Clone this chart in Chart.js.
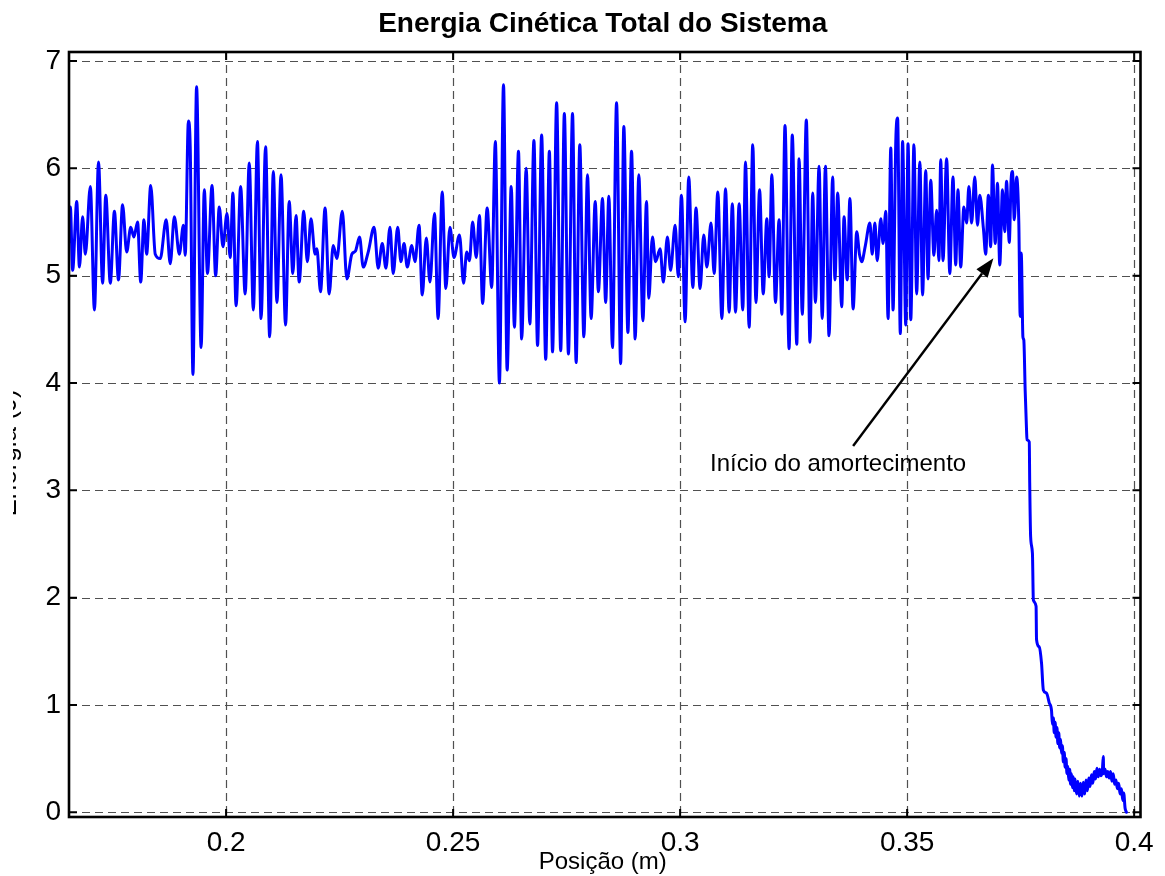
<!DOCTYPE html>
<html>
<head>
<meta charset="utf-8">
<script src="https://cdn.jsdelivr.net/npm/chart.js@4/dist/chart.umd.min.js"></script>
<style>
  html, body { margin: 0; padding: 0; background: #fff; }
</style>
</head>
<body>
<canvas id="grafico" width="1165" height="876"></canvas>
<script>
// Sinal, por trechos: [posição (m), energia (J)]
const trecho1 = [
  [0.1653,5.30],[0.1657,5.64],[0.1662,5.05],[0.1671,5.69],[0.1677,5.08],[0.1684,5.55],[0.1690,5.20],[0.1701,5.83],
  [0.1710,4.68],[0.1719,6.06],[0.1728,4.93],[0.1735,5.75],[0.1745,4.93],[0.1754,5.60],[0.1763,4.96],[0.1772,5.66],
  [0.1781,5.22],[0.1790,5.45],[0.1797,5.36],[0.1805,5.50],[0.1812,4.94],[0.1819,5.52],[0.1825,5.20],[0.1834,5.84],
  [0.1844,5.20],[0.1855,5.16],[0.1868,5.52],[0.1877,5.11],[0.1886,5.55],[0.1897,5.20],[0.1906,5.47],[0.1910,5.19],
  [0.1917,6.44],[0.1921,6.20],[0.1927,4.08],[0.1935,6.76],[0.1945,4.33],[0.1952,5.80],[0.1959,5.02],[0.1969,5.84],
  [0.1977,5.00],[0.1985,5.64],[0.1993,5.27],[0.2002,5.58],[0.2009,5.17],[0.2015,5.77],[0.2022,4.72],[0.2032,5.83],
  [0.2042,4.83],[0.2051,6.05],[0.2060,4.68],[0.2069,6.25]
];

const trecho2 = [
  [0.2077,4.60],[0.2087,6.20],[0.2096,4.43],[0.2104,5.97],[0.2112,4.75],[0.2121,5.94],[0.2131,4.54],[0.2139,5.69],
  [0.2147,5.02],[0.2154,5.56],[0.2161,4.94],[0.2171,5.60],[0.2179,5.13],[0.2187,5.53],[0.2196,5.20],[0.2200,5.25],
  [0.2208,4.85],[0.2218,5.63],[0.2227,4.83],[0.2236,5.28],[0.2244,5.16],[0.2256,5.60],[0.2266,4.97],[0.2277,5.20],
  [0.2285,5.23],[0.2294,5.36],[0.2302,5.08],[0.2313,5.22],[0.2326,5.45],[0.2335,5.07],[0.2344,5.30],[0.2352,5.07],
  [0.2361,5.45],[0.2368,5.02],[0.2378,5.45],[0.2385,5.13],[0.2392,5.30],[0.2399,5.08],[0.2409,5.28],[0.2416,5.13],
  [0.2425,5.47],[0.2432,4.82],[0.2441,5.35],[0.2449,4.94],[0.2459,5.58],[0.2467,4.60],[0.2476,5.78],[0.2484,4.88],
  [0.2493,5.45]
];

const trecho3 = [
  [0.2502,5.17],[0.2514,5.38],[0.2523,4.93],[0.2530,5.22],[0.2536,5.14],[0.2543,5.50],[0.2551,5.17],[0.2558,5.56],
  [0.2565,4.74],[0.2575,5.63],[0.2585,4.89],[0.2593,6.25],[0.2602,4.00],[0.2611,6.78],[0.2619,4.12],[0.2628,5.83],
  [0.2635,4.52],[0.2644,6.16],[0.2651,4.41],[0.2661,6.00],[0.2669,4.55],[0.2678,6.26],[0.2686,4.35],[0.2695,6.31],
  [0.2704,4.22],[0.2712,6.16],[0.2719,4.29],[0.2728,6.61],[0.2737,4.30],[0.2745,6.51],[0.2754,4.27],[0.2763,6.51],
  [0.2771,4.19],[0.2779,6.22],[0.2788,4.43],[0.2796,5.94],[0.2804,4.60],[0.2813,5.69],[0.2820,4.85],[0.2829,5.72],
  [0.2836,4.75],[0.2843,5.74],[0.2851,4.33],[0.2860,6.61],[0.2869,4.18],[0.2876,6.39],[0.2885,4.47],[0.2893,6.16],
  [0.2901,4.41],[0.2909,5.94],[0.2918,4.58],[0.2926,5.69]
];

const trecho4 = [
  [0.2931,4.79],[0.2939,5.36],[0.2946,5.13],[0.2956,5.25],[0.2963,4.94],[0.2972,5.36],[0.2979,5.05],[0.2989,5.47],
  [0.2996,4.99],[0.3003,5.75],[0.3011,4.57],[0.3019,5.92],[0.3028,4.89],[0.3035,5.63],[0.3044,4.88],[0.3052,5.38],
  [0.3059,5.08],[0.3068,5.49],[0.3075,5.02],[0.3083,5.78],[0.3092,4.60],[0.3100,5.81],[0.3108,4.66],[0.3115,5.67],
  [0.3122,4.66],[0.3130,5.67],[0.3138,4.68],[0.3144,6.06],[0.3152,4.52],[0.3160,6.22],[0.3167,4.75],[0.3175,5.80],
  [0.3183,4.83],[0.3191,5.53],[0.3196,4.99],[0.3202,5.94],[0.3210,4.75],[0.3218,5.52],[0.3224,4.64],[0.3231,6.40],
  [0.3240,4.32],[0.3247,6.31],[0.3257,4.36],[0.3262,6.09],[0.3269,4.64],[0.3278,6.45],[0.3286,4.38],[0.3292,5.77],
  [0.3298,4.75],[0.3306,6.02],[0.3313,4.60],[0.3320,6.02],[0.3328,4.44],[0.3336,5.92],[0.3341,4.96],[0.3347,5.77],
  [0.3356,4.71],[0.3361,5.55]
];

const trecho5 = [
  [0.3368,4.96],[0.3374,5.72],[0.3381,4.69],[0.3389,5.41],[0.3395,5.20],[0.3400,5.13],[0.3408,5.28],[0.3418,5.49],
  [0.3423,5.20],[0.3429,5.49],[0.3434,5.14],[0.3442,5.53],[0.3447,5.30],[0.3453,5.60],[0.3458,4.60],[0.3464,6.19],
  [0.3469,4.68],[0.3475,6.25],[0.3479,6.47],[0.3485,4.46],[0.3490,6.25],[0.3497,4.54],[0.3502,6.23],[0.3508,4.59],
  [0.3515,6.22],[0.3521,4.83],[0.3528,6.06],[0.3534,4.82],[0.3541,5.98],[0.3546,4.97],[0.3552,5.89],[0.3559,5.19],
  [0.3565,5.61],[0.3570,5.14],[0.3574,6.08],[0.3579,5.14],[0.3587,6.09],[0.3594,5.02],[0.3601,5.92],[0.3607,5.10],
  [0.3612,5.80],[0.3618,5.08],[0.3625,5.64],[0.3631,5.49],[0.3636,5.83],[0.3642,5.49],[0.3649,5.92],[0.3655,5.47],
  [0.3660,5.75],[0.3668,5.44],[0.3673,5.20],[0.3679,5.75],[0.3684,5.27],[0.3688,6.03],[0.3694,5.30],[0.3699,5.86],
  [0.3704,5.10],[0.3710,5.80],[0.3715,5.41],[0.3719,5.88],[0.3725,5.31],[0.3729,5.89],[0.3732,5.97],[0.3736,5.52],
  [0.3741,5.92],[0.3746,5.49]
];

// queda da energia (amortecimento) e cauda ruidosa
const trecho6 = [
  [0.3749,4.62],[0.3751,5.21],[0.3752,5.15],[0.3755,4.43],[0.3757,4.40],[0.3760,3.93],[0.3763,3.56],[0.3764,3.47],
  [0.3769,3.45],[0.3770,3.07],[0.3772,2.57],[0.3776,2.41],[0.3778,1.98],[0.3784,1.92],[0.3785,1.61],[0.3791,1.54],
  [0.3796,1.39],[0.3800,1.14],[0.3807,1.11],[0.3813,1.02],[0.3818,0.95],[0.3820,0.82],[0.3822,0.88],[0.3824,0.74],
  [0.3826,0.84],[0.3828,0.70],[0.3830,0.79],[0.3832,0.64],[0.3834,0.74],[0.3836,0.60],[0.3838,0.68],[0.3840,0.55],
  [0.3842,0.62],[0.3844,0.47],[0.3846,0.56],[0.3848,0.42],[0.3850,0.50],[0.3852,0.36],[0.3854,0.43],[0.3856,0.30],
  [0.3858,0.40],[0.3860,0.26],[0.3862,0.36],[0.3864,0.23],[0.3866,0.33],[0.3868,0.20],[0.3870,0.31],[0.3873,0.17],
  [0.3876,0.29],[0.3879,0.15],[0.3882,0.27],[0.3885,0.15],[0.3888,0.28],[0.3891,0.17],[0.3894,0.30],[0.3897,0.20],
  [0.3900,0.32],[0.3903,0.24],[0.3906,0.35],[0.3909,0.27],[0.3912,0.38],[0.3915,0.31],[0.3918,0.41],[0.3921,0.33],
  [0.3924,0.40],[0.3927,0.34],[0.3930,0.39],[0.3932,0.52],[0.3933,0.36],[0.3936,0.40],[0.3939,0.33],[0.3942,0.38],
  [0.3945,0.32],[0.3948,0.38],[0.3951,0.29],[0.3954,0.36],[0.3957,0.26],[0.3960,0.30],[0.3963,0.22],[0.3966,0.27],
  [0.3969,0.17],[0.3972,0.22],[0.3975,0.11],[0.3977,0.18],[0.3980,0.04],[0.3983,0.00]
];

const ticksX = [0.2, 0.25, 0.3, 0.35, 0.4];
const ticksY = [0, 1, 2, 3, 4, 5, 6, 7];
const limitesX = [0.1654, 0.4014];
const limitesY = [-0.044, 7.084];

// anotação (coordenadas em unidades dos eixos)
const anotacao = {
  texto: 'Início do amortecimento',
  x: 0.3066, y: 3.18,
  de: [0.3381, 3.413],
  para: [0.3690, 5.162]
};

const FONTE = "'Liberation Sans', Arial, Helvetica, sans-serif";

const pontos = [].concat(trecho1, trecho2, trecho3, trecho4, trecho5, trecho6)
  .map(p => ({ x: p[0], y: p[1] }));

// grade tracejada, moldura, marcas internas e textos no estilo MATLAB
const moldura = {
  id: 'moldura',
  beforeDatasetsDraw(chart) {
    const { ctx, chartArea: a, scales: { x, y } } = chart;
    ctx.save();
    ctx.strokeStyle = '#505050';
    ctx.lineWidth = 1.2;
    ctx.setLineDash([8, 5]);
    ticksX.forEach(v => {
      const px = Math.round(x.getPixelForValue(v)) + 0.5;
      ctx.beginPath(); ctx.moveTo(px, a.top); ctx.lineTo(px, a.bottom); ctx.stroke();
    });
    ticksY.forEach(v => {
      const py = Math.round(y.getPixelForValue(v)) + 0.5;
      ctx.beginPath(); ctx.moveTo(a.left, py); ctx.lineTo(a.right, py); ctx.stroke();
    });
    ctx.restore();
  },
  afterDraw(chart) {
    const { ctx, chartArea: a, scales: { x, y } } = chart;
    ctx.save();
    ctx.strokeStyle = '#000';
    ctx.lineWidth = 2;
    const t = 8;
    ticksX.forEach(v => {
      const px = x.getPixelForValue(v);
      ctx.beginPath();
      ctx.moveTo(px, a.bottom); ctx.lineTo(px, a.bottom - t);
      ctx.moveTo(px, a.top); ctx.lineTo(px, a.top + t);
      ctx.stroke();
    });
    ticksY.forEach(v => {
      const py = y.getPixelForValue(v);
      ctx.beginPath();
      ctx.moveTo(a.left, py); ctx.lineTo(a.left + t, py);
      ctx.moveTo(a.right, py); ctx.lineTo(a.right - t, py);
      ctx.stroke();
    });
    ctx.lineWidth = 2.6;
    ctx.strokeRect(a.left, a.top, a.right - a.left, a.bottom - a.top);

    const cx = (a.left + a.right) / 2;
    ctx.fillStyle = '#000';
    ctx.textAlign = 'center';
    ctx.textBaseline = 'alphabetic';
    ctx.font = 'bold 28px ' + FONTE;
    ctx.fillText('Energia Cinética Total do Sistema', cx - 2, 32);
    ctx.font = '24px ' + FONTE;
    ctx.fillText('Posição (m)', cx - 2, 869);

    // rótulo do eixo y, cortado na borda esquerda como no original
    ctx.save();
    ctx.beginPath(); ctx.rect(13, 0, 40, 876); ctx.clip();
    ctx.translate(16, 453);
    ctx.rotate(-Math.PI / 2);
    ctx.font = '26px ' + FONTE;
    ctx.fillText('Energia (J)', 0, 0);
    ctx.restore();

    // anotação com seta
    ctx.font = '24px ' + FONTE;
    ctx.textAlign = 'left';
    ctx.fillText(anotacao.texto, x.getPixelForValue(anotacao.x), y.getPixelForValue(anotacao.y));
    const x0 = x.getPixelForValue(anotacao.de[0]), y0 = y.getPixelForValue(anotacao.de[1]);
    const x1 = x.getPixelForValue(anotacao.para[0]), y1 = y.getPixelForValue(anotacao.para[1]);
    const ang = Math.atan2(y1 - y0, x1 - x0);
    const L = 19, W = 7;
    const bx = x1 - L * Math.cos(ang), by = y1 - L * Math.sin(ang);
    ctx.lineWidth = 2.4;
    ctx.beginPath(); ctx.moveTo(x0, y0); ctx.lineTo(bx, by); ctx.stroke();
    ctx.beginPath();
    ctx.moveTo(x1, y1);
    ctx.lineTo(bx + W * Math.sin(ang), by - W * Math.cos(ang));
    ctx.lineTo(bx - W * Math.sin(ang), by + W * Math.cos(ang));
    ctx.closePath();
    ctx.fill();
    ctx.restore();
  }
};

new Chart(document.getElementById('grafico'), {
  type: 'line',
  data: {
    datasets: [{
      data: pontos,
      borderColor: '#0000ff',
      borderWidth: 3,
      borderJoinStyle: 'round',
      borderCapStyle: 'round',
      cubicInterpolationMode: 'monotone',
      pointRadius: 0,
      fill: false
    }]
  },
  options: {
    responsive: false,
    animation: false,
    devicePixelRatio: 1,
    layout: { padding: { top: 52, right: 24.5, left: 0, bottom: 0 } },
    plugins: { legend: { display: false }, tooltip: { enabled: false }, title: { display: false } },
    scales: {
      x: {
        type: 'linear',
        min: limitesX[0],
        max: limitesX[1],
        afterBuildTicks: s => { s.ticks = ticksX.map(v => ({ value: v })); },
        afterFit: s => { s.height = 59; },
        grid: { display: false, drawTicks: false },
        border: { display: false },
        ticks: {
          autoSkip: false, maxRotation: 0, padding: 9,
          color: '#000', font: { family: FONTE, size: 28 },
          callback: v => String(v)
        }
      },
      y: {
        type: 'linear',
        min: limitesY[0],
        max: limitesY[1],
        afterBuildTicks: s => { s.ticks = ticksY.map(v => ({ value: v })); },
        afterFit: s => { s.width = 69; },
        grid: { display: false, drawTicks: false },
        border: { display: false },
        ticks: {
          padding: 8,
          color: '#000', font: { family: FONTE, size: 28 },
          callback: v => String(v)
        }
      }
    }
  },
  plugins: [moldura]
});
</script>
</body>
</html>
